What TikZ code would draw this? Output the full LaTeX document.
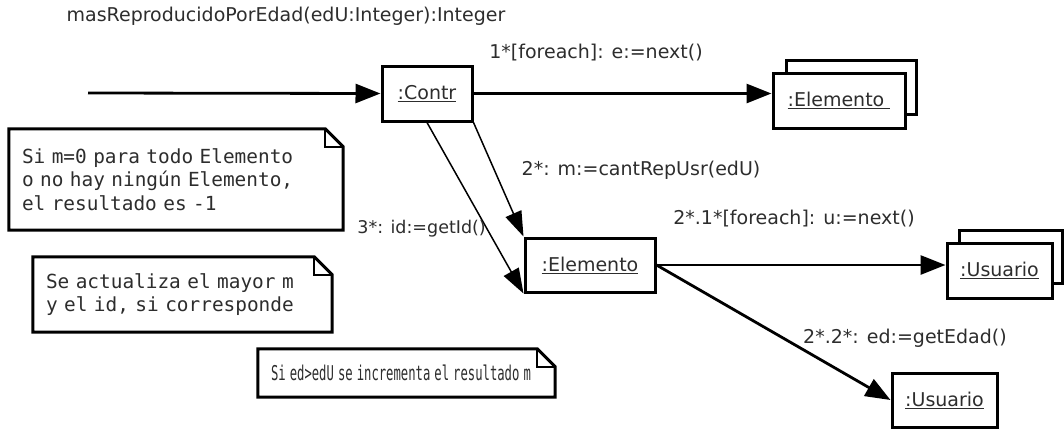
\documentclass[tikz,border=0pt]{standalone}
\usepackage{fontspec}
\usepackage{graphicx}
\setmainfont{DejaVu Sans}
\newfontfamily\notefont{DejaVu Sans Mono}
\usetikzlibrary{arrows.meta}
\definecolor{txt}{RGB}{45,45,45}
\begin{document}
\begin{tikzpicture}[x=1pt,y=-1pt,
  every node/.style={font=\fontsize{19}{23}\selectfont, text=txt},
  obj/.style={draw=black, line width=3pt, fill=white, inner sep=0pt, text=txt},
  msg/.style={line width=2.8pt, -{Triangle[length=25pt,width=19pt]}},
  thinmsg/.style={line width=1.5pt, -{Triangle[length=25pt,width=17pt]}},
  lbl/.style={inner sep=0pt},
  notebox/.style={inner xsep=13pt, inner ysep=0pt, align=left, fill=white,
    font=\notefont\fontsize{19.4}{23.5}\selectfont},
  noteline/.style={line width=3pt, line join=miter},
  foldline/.style={line width=1.5pt}
]
\useasboundingbox (0,0) rectangle (1064,429);

% title
\node[lbl] (title) at (286,16) {masReproducidoPorEdad(edU:Integer):Integer};

% objects
\coordinate (start) at (88,93);
\node[obj, minimum width=90, minimum height=55] (contr) at (427,93.5) {\underline{:Contr}};

\node[obj, minimum width=130, minimum height=54] (elback) at (851,87) {};
\node[obj, minimum width=132, minimum height=55] (elfront) at (839,100.5) {\underline{:Elemento\ }};

\node[obj, minimum width=130, minimum height=54] (el) at (590,265) {\underline{:Elemento}};

\node[obj, minimum width=103, minimum height=53] (usback) at (1010.5,256.5) {};
\node[obj, minimum width=105, minimum height=55] (usfront) at (999.5,270.5) {\underline{:Usuario}};

\node[obj, minimum width=105, minimum height=54] (usb) at (944.5,400) {\underline{:Usuario}};

% connectors
\draw[msg] (start) -- (contr.west);
\draw[msg] (contr.east) -- (contr.east -| elfront.west);
\draw[thinmsg] (contr.south east) -- (el.north west);
\draw[thinmsg] (contr.south) -- (el.south west);
\draw[msg] (el.east) -- (el.east -| usfront.west);
\draw[msg] (el.east) -- (usb.west);

% labels
\node[lbl] (l1) at (596,53) {1*[foreach]: e:=next()};
\node[lbl] (l2) at (641,170) {2*: m:=cantRepUsr(edU)};
\node[lbl, anchor=east, font=\fontsize{17.5}{21}\selectfont] (l3) at (486,229) {3*: id:=getId()};
\node[lbl] (l21) at (794,219) {2*.1*[foreach]: u:=next()};
\node[lbl] (l22) at (905,338) {2*.2*: ed:=getEdad()};

% notes
\node[notebox, minimum width=334, minimum height=101, text width=308] (n1) at (176,179.5)
  {Si m=0 para todo Elemento\\o no hay ningún Elemento,\\el resultado es -1};
\node[notebox, minimum width=299, minimum height=75, text width=273] (n2) at (182.5,294.5)
  {Se actualiza el mayor m\\y el id, si corresponde};
\node[notebox, minimum width=297, minimum height=48, text width=271] (n3) at (406.5,373)
  {\scalebox{0.63}[1.05]{Si ed>edU se incrementa el resultado m}};

\foreach \n in {n1,n2,n3} {
  \draw[noteline] (\n.south west) -- (\n.north west) -- ([xshift=-18pt]\n.north east)
    -- ([yshift=-18pt]\n.north east) -- (\n.south east) -- cycle;
  \draw[foldline] ([xshift=-18pt]\n.north east) |- ([yshift=-18pt]\n.north east);
}
\end{tikzpicture}
\end{document}
